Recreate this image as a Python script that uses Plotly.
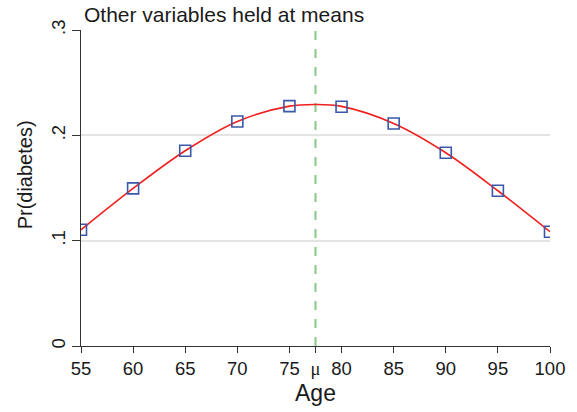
import plotly.graph_objects as go

# Data
ages = [55, 60, 65, 70, 75, 80, 85, 90, 95, 100]
pr_points = [0.1103, 0.1496, 0.1854, 0.2132, 0.2277, 0.2272, 0.2113, 0.1835, 0.1474, 0.1085]

curve_ages = [55, 60, 65, 70, 75, 77.5, 80, 85, 90, 95, 100]
curve_pr = [0.1103, 0.1496, 0.1854, 0.2132, 0.2277, 0.2293, 0.2275, 0.2113, 0.1835, 0.1474, 0.1085]

mu_age = 77.5

x_tickvals = [55, 60, 65, 70, 75, mu_age, 80, 85, 90, 95, 100]
x_ticktext = ["55", "60", "65", "70", "75", "<span style='font-family:Liberation Serif, serif'>μ</span>",
              "80", "85", "90", "95", "100"]
y_tickvals = [0, 0.1, 0.2, 0.3]
y_ticktext = ["0", ".1", ".2", ".3"]

fig = go.Figure()

fig.add_trace(go.Scatter(
    x=[mu_age, mu_age], y=[0, 0.3], mode="lines",
    line=dict(color="#86c986", width=2, dash="dash"),
    showlegend=False, hoverinfo="skip"))

fig.add_trace(go.Scatter(
    x=curve_ages, y=curve_pr, mode="lines", line_shape="spline",
    line=dict(color="#f0201e", width=1.6), showlegend=False))

fig.add_trace(go.Scatter(
    x=ages, y=pr_points, mode="markers",
    marker=dict(symbol="square-open", size=11, color="#3a58a8", line=dict(width=1.6)),
    showlegend=False))

font_family = "Liberation Sans, Arial, sans-serif"

fig.update_layout(
    width=577, height=412,
    margin=dict(l=81, r=27, t=30, b=66),
    paper_bgcolor="white", plot_bgcolor="white",
    font=dict(family=font_family, color="#1a1a1a"),
    xaxis=dict(
        range=[55, 100], tickvals=x_tickvals, ticktext=x_ticktext,
        ticks="outside", ticklen=6, tickcolor="#333", tickwidth=1,
        showline=True, linecolor="#333", linewidth=1.2,
        showgrid=False, zeroline=False,
        tickfont=dict(size=18.5), title=dict(text="Age", font=dict(size=23), standoff=6),
    ),
    yaxis=dict(
        range=[0, 0.3], tickvals=y_tickvals, ticktext=y_ticktext, tickangle=-90,
        ticks="outside", ticklen=8, tickcolor="#333", tickwidth=1,
        showline=True, linecolor="#333", linewidth=1.2,
        showgrid=True, gridcolor="#e3e3e3", gridwidth=1.5, zeroline=False,
        tickfont=dict(size=18.5),
    ),
    annotations=[
        dict(text="Other variables held at means", xref="paper", yref="paper",
             x=0, y=1.0, xanchor="left", yanchor="bottom", xshift=1, yshift=2, showarrow=False,
             font=dict(size=21, color="#1a1a1a")),
        dict(text="Pr(diabetes)", xref="paper", yref="paper", textangle=-90,
             x=0, y=0.54, xanchor="center", yanchor="middle", xshift=-56, showarrow=False,
             font=dict(size=20, color="#1a1a1a")),
    ],
)

fig.write_html("out.html", config={"displayModeBar": False},
               post_script="document.body.style.margin='0';")
